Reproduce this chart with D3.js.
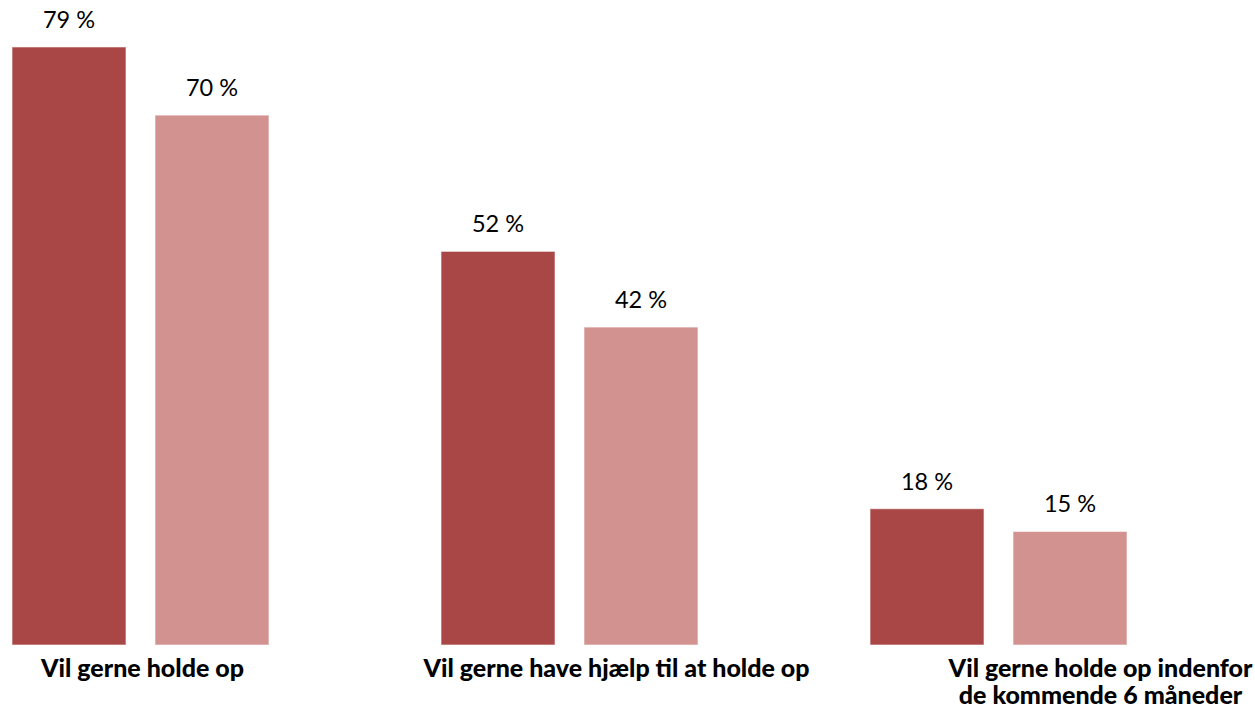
<!DOCTYPE html>
<html>
<head>
<meta charset="utf-8">
<script src="https://cdn.jsdelivr.net/npm/d3@7"></script>
<style>
  html, body { margin: 0; padding: 0; background: #fff; }
  svg { display: block; }
</style>
</head>
<body>
<svg id="chart" width="1255" height="712"></svg>
<script>
// ---- data ----
const categories = [
  ["Vil gerne holde op"],
  ["Vil gerne have hjælp til at holde op"],
  ["Vil gerne holde op indenfor", "de kommende 6 måneder"]
];
const categoryKeys = categories.map(c => c.join(" "));
const seriesNames = ["Serie 1", "Serie 2"];
const seriesA = [79, 52, 18];
const seriesB = [70, 42, 15];

// ---- layout ----
const W = 1255, H = 712;
const baseline = 645;
const colors = ["#A84745", "#D29290"];
const labelOffsets = [2, 47, 102]; // category label shift from group centre

const svg = d3.select("#chart");

const x0 = d3.scaleBand()
  .domain(categoryKeys)
  .range([12, 1127])
  .paddingInner(0.401)
  .paddingOuter(0);

const x1 = d3.scaleBand()
  .domain(seriesNames)
  .range([0, x0.bandwidth()])
  .paddingInner(0.2028)
  .paddingOuter(0);

const y = d3.scaleLinear().domain([0, 100]).range([baseline, baseline - 757]);

const rows = categoryKeys.map((k, i) => ({
  key: k,
  lines: categories[i],
  values: [seriesA[i], seriesB[i]]
}));

const groups = svg.selectAll("g.grp")
  .data(rows)
  .join("g")
  .attr("class", "grp")
  .attr("transform", d => `translate(${x0(d.key)},0)`);

groups.selectAll("rect")
  .data(d => d.values.map((v, j) => ({ s: seriesNames[j], v, j })))
  .join("rect")
  .attr("x", d => x1(d.s))
  .attr("width", x1.bandwidth())
  .attr("y", d => y(d.v))
  .attr("height", d => baseline - y(d.v))
  .attr("fill", d => colors[d.j])
  .attr("stroke", "rgba(255,255,255,0.6)")
  .attr("stroke-width", 1);

groups.selectAll("text.val")
  .data(d => d.values.map((v, j) => ({ s: seriesNames[j], v, j })))
  .join("text")
  .attr("class", "val")
  .attr("x", d => x1(d.s) + x1.bandwidth() / 2)
  .attr("y", d => y(d.v) - 19)
  .attr("text-anchor", "middle")
  .attr("font-family", "Lato, 'Open Sans', sans-serif")
  .attr("font-size", 23.5)
  .attr("fill", "#000")
  .text(d => d.v + " %");

// category labels
const catLabels = svg.selectAll("text.cat")
  .data(rows)
  .join("text")
  .attr("class", "cat")
  .attr("text-anchor", "middle")
  .attr("font-family", "Lato, 'Open Sans', sans-serif")
  .attr("font-weight", "900")
  .attr("font-size", 25)
  .attr("fill", "#000");

catLabels.each(function(d, i) {
  const cx = x0(d.key) + x0.bandwidth() / 2 + labelOffsets[i];
  d3.select(this).selectAll("tspan")
    .data(d.lines)
    .join("tspan")
    .attr("x", cx)
    .attr("y", (l, k) => 677 + k * 27)
    .text(l => l);
});
</script>
</body>
</html>
